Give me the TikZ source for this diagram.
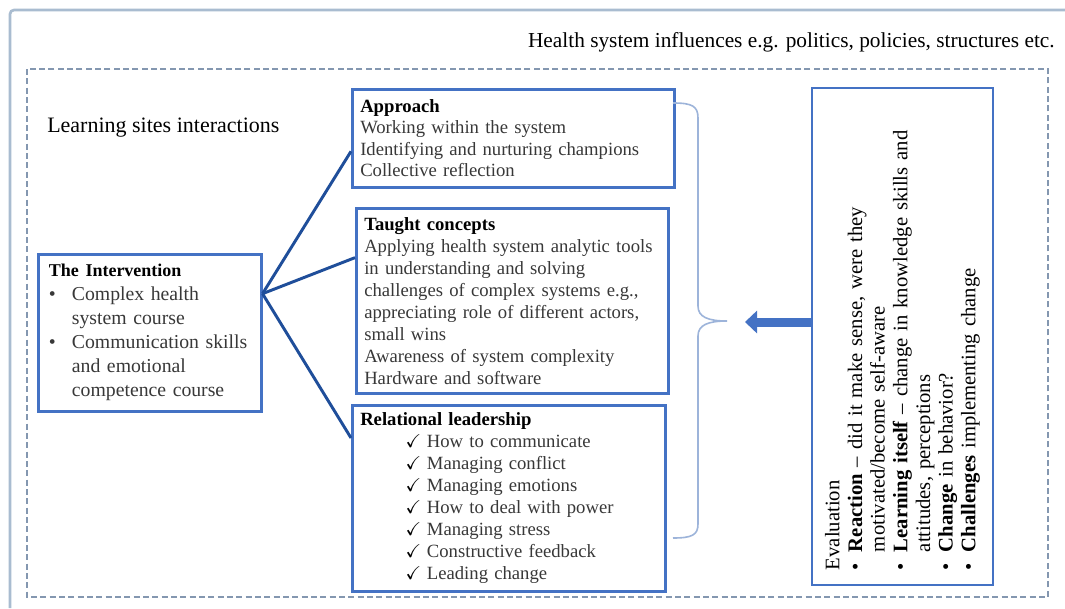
\documentclass[tikz,border=0pt]{standalone}
\usepackage{fontspec}
\setmainfont{Liberation Serif}
\usepackage{amssymb}
\usetikzlibrary{arrows.meta,calc}
\definecolor{boxblue}{HTML}{4472C4}
\definecolor{linkblue}{HTML}{1F4E9A}
\definecolor{framec}{HTML}{A9BCD0}
\definecolor{dashc}{HTML}{8497B0}
\definecolor{bracec}{HTML}{9DB4DA}
\definecolor{txt}{HTML}{383838}
\newcommand\bul{\makebox[17.25pt][l]{\textbullet}}
\newcommand\ind{\hspace*{17.25pt}}
\newcommand\ebul{\makebox[13.5pt][l]{\textbullet}}
\newcommand\eind{\hspace*{13.5pt}}
\newcommand\ck{\hspace*{34pt}\makebox[16pt][l]{\color{black}$\checkmark$}}
\begin{document}
\begin{tikzpicture}[x=0.75pt,y=-0.75pt,
  box/.style={draw=boxblue, line width=1.9pt, fill=white, anchor=north west,
    align=left, inner xsep=6pt, inner ysep=0pt, text=txt},
  link/.style={draw=linkblue, line width=2.2pt},
  plain/.style={inner sep=0pt, text=black}
]
\useasboundingbox (0,0) rectangle (1065,608);
\fill[white] (0,0) rectangle (1065,608);
% frames
\draw[framec, line width=2pt, rounded corners=3pt] (10,608) -- (10,10) -- (1065,10);
\draw[dashc, line width=1.3pt, dash pattern=on 4.5pt off 2.5pt] (27,69) rectangle (1048,597);
% texts
\node[plain, anchor=east, font=\fontsize{16}{18}\selectfont] (influ) at (1055,42)
  {Health system influences e.g. politics, policies, structures etc.};
\node[plain, anchor=west, font=\fontsize{16.5}{18}\selectfont] (sites) at (47,128)
  {Learning sites interactions};
% boxes
\node[box, minimum width=167.25pt, minimum height=117.75pt, text width=151.25pt,
  inner xsep=8pt, font=\fontsize{14.8}{18}\selectfont] (intv) at (37,253)
  {{\fontsize{13.5}{16}\selectfont\bfseries\color{black}The Intervention}\\
   \bul\mbox{Complex health}\\ \ind system course\\
   \bul\mbox{Communication skills}\\ \ind and emotional\\ \ind\mbox{competence course}};
\node[box, minimum width=241.5pt, minimum height=73.5pt, text width=229.5pt,
  font=\fontsize{14}{16.1}\selectfont] (appr) at (351,88)
  {{\bfseries\color{black}Approach}\\
   Working within the system\\
   Identifying and nurturing champions\\
   Collective reflection};
\node[box, minimum width=234pt, minimum height=138.75pt, text width=222pt,
  font=\fontsize{14}{16.5}\selectfont] (taught) at (355,207)
  {{\bfseries\color{black}Taught concepts}\\
   Applying health system analytic tools\\
   in understanding and solving\\
   challenges of complex systems e.g.,\\
   appreciating role of different actors,\\
   small wins\\
   Awareness of system complexity\\
   Hardware and software};
\node[box, minimum width=234.75pt, minimum height=139.5pt, text width=222.75pt,
  font=\fontsize{14}{16.5}\selectfont] (relat) at (351,404)
  {{\bfseries\color{black}Relational leadership}\\
   \ck How to communicate\\
   \ck Managing conflict\\
   \ck Managing emotions\\
   \ck How to deal with power\\
   \ck Managing stress\\
   \ck Constructive feedback\\
   \ck Leading change};
\node[draw=boxblue, line width=1.9pt, fill=white, rotate=90,
  minimum width=372.75pt, minimum height=135.75pt, text width=350.25pt,
  inner xsep=11.25pt, inner ysep=0pt, align=left, text=black,
  font=\fontsize{15.5}{17}\selectfont] (eval) at (902.5,336.5)
  {Evaluation\\
   \ebul\textbf{Reaction} -- did it make sense, were they\\
   \eind motivated/become self-aware\\
   \ebul\textbf{Learning itself} -- change in knowledge skills and\\
   \eind attitudes, perceptions\\
   \ebul\textbf{Change} in behavior?\\
   \ebul\textbf{Challenges} implementing change};
% links
\coordinate (hub) at ($(intv.north east)!0.255!(intv.south east)$);
\draw[link] (hub) -- ($(appr.north west)!0.63!(appr.south west)$);
\draw[link] (hub) -- ($(taught.north west)!0.27!(taught.south west)$);
\draw[link] (hub) -- ($(relat.north west)!0.18!(relat.south west)$);
% brace
\coordinate (btip) at (727,321);
\draw[bracec, line width=1.2pt]
  (673,103) .. controls (692,103) and (698,106) .. (698,118) -- (698,306)
  .. controls (698,317) and (708,321) .. (btip)
  .. controls (708,321) and (698,325) .. (698,336) -- (698,524)
  .. controls (698,535) and (692,538) .. (673,538);
% arrow
\coordinate (atip) at (745,322);
\draw[boxblue, line width=6.75pt, -{Triangle[length=9pt,width=16.5pt]}]
  (eval.north |- atip) -- (atip);
\end{tikzpicture}
\end{document}
